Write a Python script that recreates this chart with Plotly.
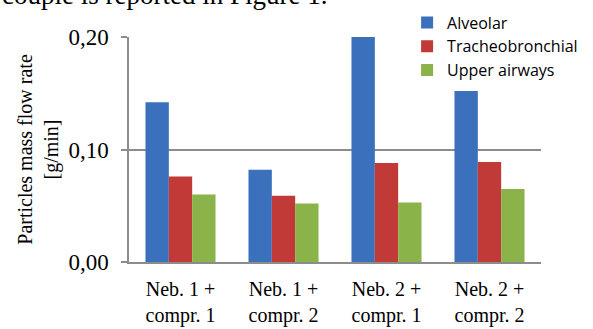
import plotly.graph_objects as go

categories = ["Neb. 1 +<br>compr. 1", "Neb. 1 +<br>compr. 2", "Neb. 2 +<br>compr. 1", "Neb. 2 +<br>compr. 2"]
alveolar = [0.142, 0.082, 0.201, 0.152]
tracheobronchial = [0.076, 0.059, 0.088, 0.089]
upper_airways = [0.060, 0.052, 0.053, 0.065]
series_names = ["Alveolar", "Tracheobronchial", "Upper airways"]
tick_vals = [0.0, 0.1, 0.2]

colors = ["#3A70BC", "#C23A37", "#8AB34A"]
serif = "Liberation Serif, Times New Roman, serif"
sans = "Open Sans, Carlito, Calibri, sans-serif"

fig = go.Figure()
for name, vals, col in zip(series_names, [alveolar, tracheobronchial, upper_airways], colors):
    fig.add_trace(go.Bar(x=categories, y=vals, name=name, marker=dict(color=col, line=dict(width=0))))

fig.update_layout(
    width=593, height=329,
    margin=dict(l=129, r=52, t=37, b=67, autoexpand=False),
    paper_bgcolor="white", plot_bgcolor="white",
    barmode="group", bargap=0.32, bargroupgap=0,
    separators=", ",
    showlegend=True,
    legend=dict(x=0.675, y=1.14, xanchor="left", yanchor="top",
                font=dict(family=sans, size=16, color="black"),
                bgcolor="rgba(0,0,0,0)", itemwidth=30, tracegroupgap=0,
                traceorder="normal"),
    font=dict(family=serif, color="black"),
)
fig.update_yaxes(range=[0, 0.2], tickvals=tick_vals, tickformat=".2f",
                 tickfont=dict(family=serif, size=23, color="black"),
                 ticklabelstandoff=8,
                 showgrid=True, gridcolor="#8c8c8c", gridwidth=1.5,
                 showline=True, linecolor="#8c8c8c", linewidth=1.5,
                 ticks="outside", ticklen=6, tickcolor="#8c8c8c", tickwidth=1.5,
                 zeroline=False,
                 title=dict(text="Particles mass flow rate<br>[g/min]",
                            font=dict(family=serif, size=20, color="black"), standoff=4))
fig.update_xaxes(tickfont=dict(family=serif, size=20, color="black"),
                 ticklabelstandoff=8,
                 showline=True, linecolor="#8c8c8c", linewidth=2, ticks="")

fig.add_annotation(text="couple is reported in Figure 1.", xref="paper", yref="paper",
                   x=-0.313, y=1.185, xanchor="left", yanchor="middle", showarrow=False,
                   font=dict(family=serif, size=27, color="black"))

fig.write_html("out.html", config={"displayModeBar": False},
               post_script="document.body.style.margin='0';document.body.style.overflow='hidden';")
